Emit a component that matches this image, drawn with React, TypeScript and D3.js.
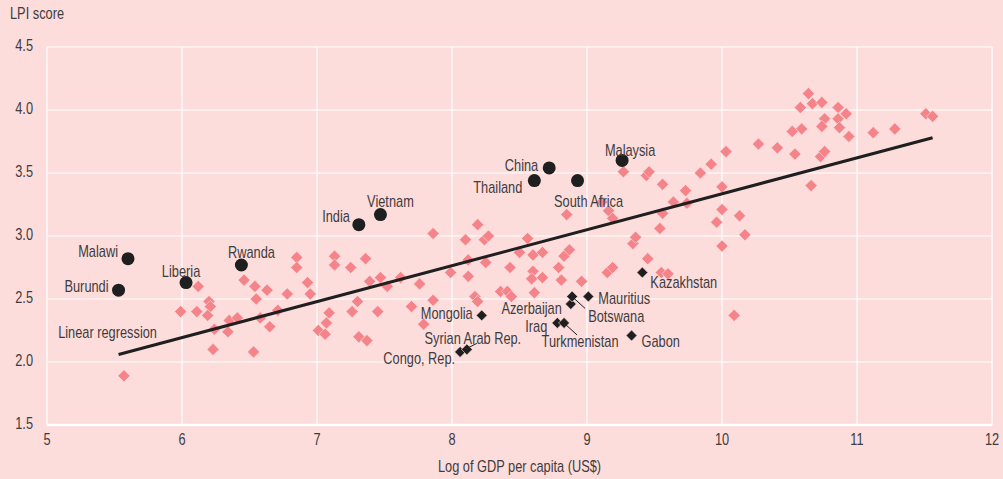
import React from 'react'
import * as d3 from 'd3'

// Other economies: [log GDP per capita, LPI score]
const otherX = [
  5.57, 5.99, 6.11, 6.12, 6.2, 6.21, 6.19, 6.24, 6.23, 6.34, 6.35, 6.41, 6.46, 6.54, 6.55, 6.63, 6.58, 6.53,
  6.65, 6.71, 6.78, 6.85, 6.85, 6.93, 6.95, 7.09, 7.07, 7.01, 7.06, 7.13, 7.13, 7.25, 7.36, 7.39, 7.47, 7.52,
  7.62, 7.76, 7.86, 7.3, 7.26, 7.45, 7.31, 7.37, 7.7, 7.79,
  7.99, 7.86, 8.1, 8.19, 8.24, 8.27, 8.12, 8.12, 8.25, 8.17, 8.19, 8.36, 8.41, 8.44, 8.43, 8.5, 8.56, 8.6,
  8.67, 8.6, 8.59, 8.67, 8.61, 8.79, 8.81, 8.83, 8.87, 8.85, 8.96,
  9.27, 9.44, 9.46, 9.56, 9.11, 9.16, 9.19, 9.73, 9.64, 9.74, 9.56, 9.54, 9.84, 9.92, 10.03, 10.0, 10.0, 9.96,
  10.13, 10.17, 10.0, 9.34, 9.36, 9.45, 9.15, 9.19, 9.55, 9.6, 10.09,
  10.64, 10.58, 10.67, 10.74, 10.86, 10.92, 10.76, 10.74, 10.86, 10.87, 10.94, 10.59, 10.52, 10.41, 10.54,
  10.73, 10.76, 11.12, 11.28, 11.51, 11.56, 10.66, 10.27,
]
const otherY = [
  1.89, 2.4, 2.4, 2.6, 2.48, 2.44, 2.37, 2.26, 2.1, 2.24, 2.33, 2.35, 2.65, 2.6, 2.5, 2.57, 2.35, 2.08,
  2.28, 2.41, 2.54, 2.83, 2.75, 2.63, 2.54, 2.39, 2.31, 2.25, 2.22, 2.84, 2.77, 2.75, 2.82, 2.64, 2.67, 2.6,
  2.67, 2.62, 3.02, 2.48, 2.4, 2.4, 2.2, 2.17, 2.44, 2.3,
  2.71, 2.49, 2.97, 3.09, 2.97, 3.0, 2.81, 2.68, 2.79, 2.52, 2.48, 2.56, 2.56, 2.52, 2.75, 2.87, 2.98, 2.85,
  2.87, 2.72, 2.66, 2.67, 2.55, 2.75, 2.65, 2.84, 2.89, 3.17, 2.64,
  3.51, 3.48, 3.51, 3.41, 3.27, 3.2, 3.14, 3.36, 3.27, 3.26, 3.18, 3.06, 3.5, 3.57, 3.67, 3.39, 3.21, 3.11,
  3.16, 3.01, 2.92, 2.94, 2.99, 2.82, 2.71, 2.75, 2.71, 2.7, 2.37,
  4.13, 4.02, 4.05, 4.06, 4.02, 3.97, 3.93, 3.87, 3.93, 3.86, 3.79, 3.85, 3.83, 3.7, 3.65,
  3.63, 3.67, 3.82, 3.85, 3.97, 3.95, 3.4, 3.73,
]

// Over-performers (circles)
const overNames = ['Malawi', 'Burundi', 'Liberia', 'Rwanda', 'India', 'Vietnam', 'Thailand', 'China', 'South Africa', 'Malaysia']
const overX = [5.6, 5.53, 6.03, 6.44, 7.31, 7.47, 8.61, 8.72, 8.93, 9.26]
const overY = [2.82, 2.57, 2.63, 2.77, 3.09, 3.17, 3.44, 3.54, 3.44, 3.6]

// Under-performers (black diamonds)
const underNames = ['Azerbaijan', 'Botswana', 'Mauritius', 'Iraq', 'Turkmenistan', 'Congo, Rep.', 'Syrian Arab Rep.', 'Mongolia', 'Gabon', 'Kazakhstan']
const underX = [8.88, 8.89, 9.01, 8.78, 8.83, 8.06, 8.11, 8.22, 9.33, 9.41]
const underY = [2.46, 2.52, 2.52, 2.31, 2.31, 2.08, 2.1, 2.37, 2.21, 2.71]

// Linear regression end points
const regX = [5.53, 11.56]
const regY = [2.06, 3.78]

const xTicks = [5, 6, 7, 8, 9, 10, 11, 12]
const yTicks = [1.5, 2.0, 2.5, 3.0, 3.5, 4.0, 4.5]

// label placement: [dx, dy, anchor, leader]
const labelPos: Record<string, [number, number, string, boolean?]> = {
  Malawi: [-10, -6, 'end'],
  Burundi: [-10, -2, 'end'],
  Liberia: [-5, -10, 'middle'],
  Rwanda: [10, -11, 'middle'],
  India: [-9, -7, 'end'],
  Vietnam: [10, -12, 'middle'],
  Thailand: [-12, 8, 'end'],
  China: [-11, -1, 'end'],
  'South Africa': [11, 22, 'middle'],
  Malaysia: [8, -9, 'middle'],
  Azerbaijan: [-9, 6, 'end'],
  Botswana: [16, 21, 'start', true],
  Mauritius: [10, 3, 'start'],
  Iraq: [-10, 5, 'end'],
  Turkmenistan: [16, 20, 'middle', true],
  'Congo, Rep.': [-5, 8, 'end'],
  'Syrian Arab Rep.': [6, -10, 'middle', true],
  Mongolia: [-9, -1, 'end'],
  Gabon: [10, 7, 'start'],
  Kazakhstan: [8, 11, 'start'],
}

const W = 1003
const H = 479
const margin = { top: 47, right: 11, bottom: 54, left: 47 }
const BG = '#fddcdc'
const PINK = '#f4838a'
const DARK = '#1f1f1f'
const TEXT = '#3d3d3d'
const FONT = "'Liberation Sans', Arial, sans-serif"
const SQUEEZE = 0.8

// narrow text: Liberation Sans squeezed horizontally
function Label({ x, y, anchor = 'start', middle = true, children }: any) {
  return (
    <text
      transform={`translate(${x},${y}) scale(${SQUEEZE},1)`}
      textAnchor={anchor}
      dominantBaseline={middle ? 'middle' : 'auto'}
      style={{ fontFamily: FONT, fontSize: 16, fill: TEXT }}
    >
      {children}
    </text>
  )
}

export default function App() {
  const x = d3.scaleLinear().domain([5, 12]).range([margin.left, W - margin.right])
  const y = d3.scaleLinear().domain([1.5, 4.5]).range([H - margin.bottom, margin.top])

  const diamond = d3.symbol().type(d3.symbolSquare).size(74)()
  const smallDiamond = d3.symbol().type(d3.symbolSquare).size(60)()
  const line = d3.line<number>().x((_, i) => x(regX[i])).y((_, i) => y(regY[i]))

  const renderLabel = (name: string, px: number, py: number) => {
    const [dx, dy, anchor, leader] = labelPos[name]
    return (
      <g key={'l' + name}>
        {leader && (
          <line
            x1={px + 2}
            y1={py + (dy > 0 ? 2 : -2)}
            x2={px + (name === 'Syrian Arab Rep.' ? 10 : 13)}
            y2={py + (dy > 0 ? 12 : -6)}
            stroke={DARK}
            strokeWidth={1}
          />
        )}
        <Label x={px + dx} y={py + dy} anchor={anchor}>
          {name}
        </Label>
      </g>
    )
  }

  return (
    <svg width={W} height={H} style={{ position: 'absolute', left: 0, top: 0, background: BG }}>
      <rect width={W} height={H} fill={BG} />
      {/* grid */}
      {xTicks.map((t) => (
        <line key={'gx' + t} x1={x(t)} x2={x(t)} y1={y(4.5)} y2={y(1.5)} stroke="#fff" strokeWidth={1.2} />
      ))}
      {yTicks.map((t) => (
        <line
          key={'gy' + t}
          x1={x(5)}
          x2={x(12)}
          y1={y(t)}
          y2={y(t)}
          stroke="#fff"
          strokeWidth={t === 1.5 ? 2.5 : 1.2}
        />
      ))}
      {/* tick labels */}
      {yTicks.map((t) => (
        <Label key={'ty' + t} x={33} y={y(t)} anchor="end">
          {d3.format('.1f')(t)}
        </Label>
      ))}
      {xTicks.map((t) => (
        <Label key={'tx' + t} x={x(t)} y={441} anchor="middle">
          {t}
        </Label>
      ))}
      <Label x={10} y={19} middle={false}>
        LPI score
      </Label>
      <Label x={(x(5) + x(12)) / 2} y={472} anchor="middle" middle={false}>
        Log of GDP per capita (US$)
      </Label>

      {/* other economies */}
      {otherX.map((v, i) => (
        <path
          key={'o' + i}
          d={diamond}
          transform={`translate(${x(v)},${y(otherY[i])}) rotate(45)`}
          fill={PINK}
          stroke={BG}
          strokeWidth={0.6}
        />
      ))}

      {/* regression */}
      <path d={line(regX) ?? ''} fill="none" stroke={DARK} strokeWidth={3} />
      <Label x={x(regX[0]) - 11} y={y(regY[0]) - 21} anchor="middle">
        Linear regression
      </Label>

      {/* under-performers */}
      {underX.map((v, i) => (
        <path
          key={'u' + i}
          d={smallDiamond}
          transform={`translate(${x(v)},${y(underY[i])}) rotate(45)`}
          fill={DARK}
          stroke={BG}
          strokeWidth={0.6}
        />
      ))}
      {underX.map((v, i) => renderLabel(underNames[i], x(v), y(underY[i])))}

      {/* over-performers */}
      {overX.map((v, i) => (
        <circle key={'c' + i} cx={x(v)} cy={y(overY[i])} r={6.5} fill={DARK} />
      ))}
      {overX.map((v, i) => renderLabel(overNames[i], x(v), y(overY[i])))}
    </svg>
  )
}
